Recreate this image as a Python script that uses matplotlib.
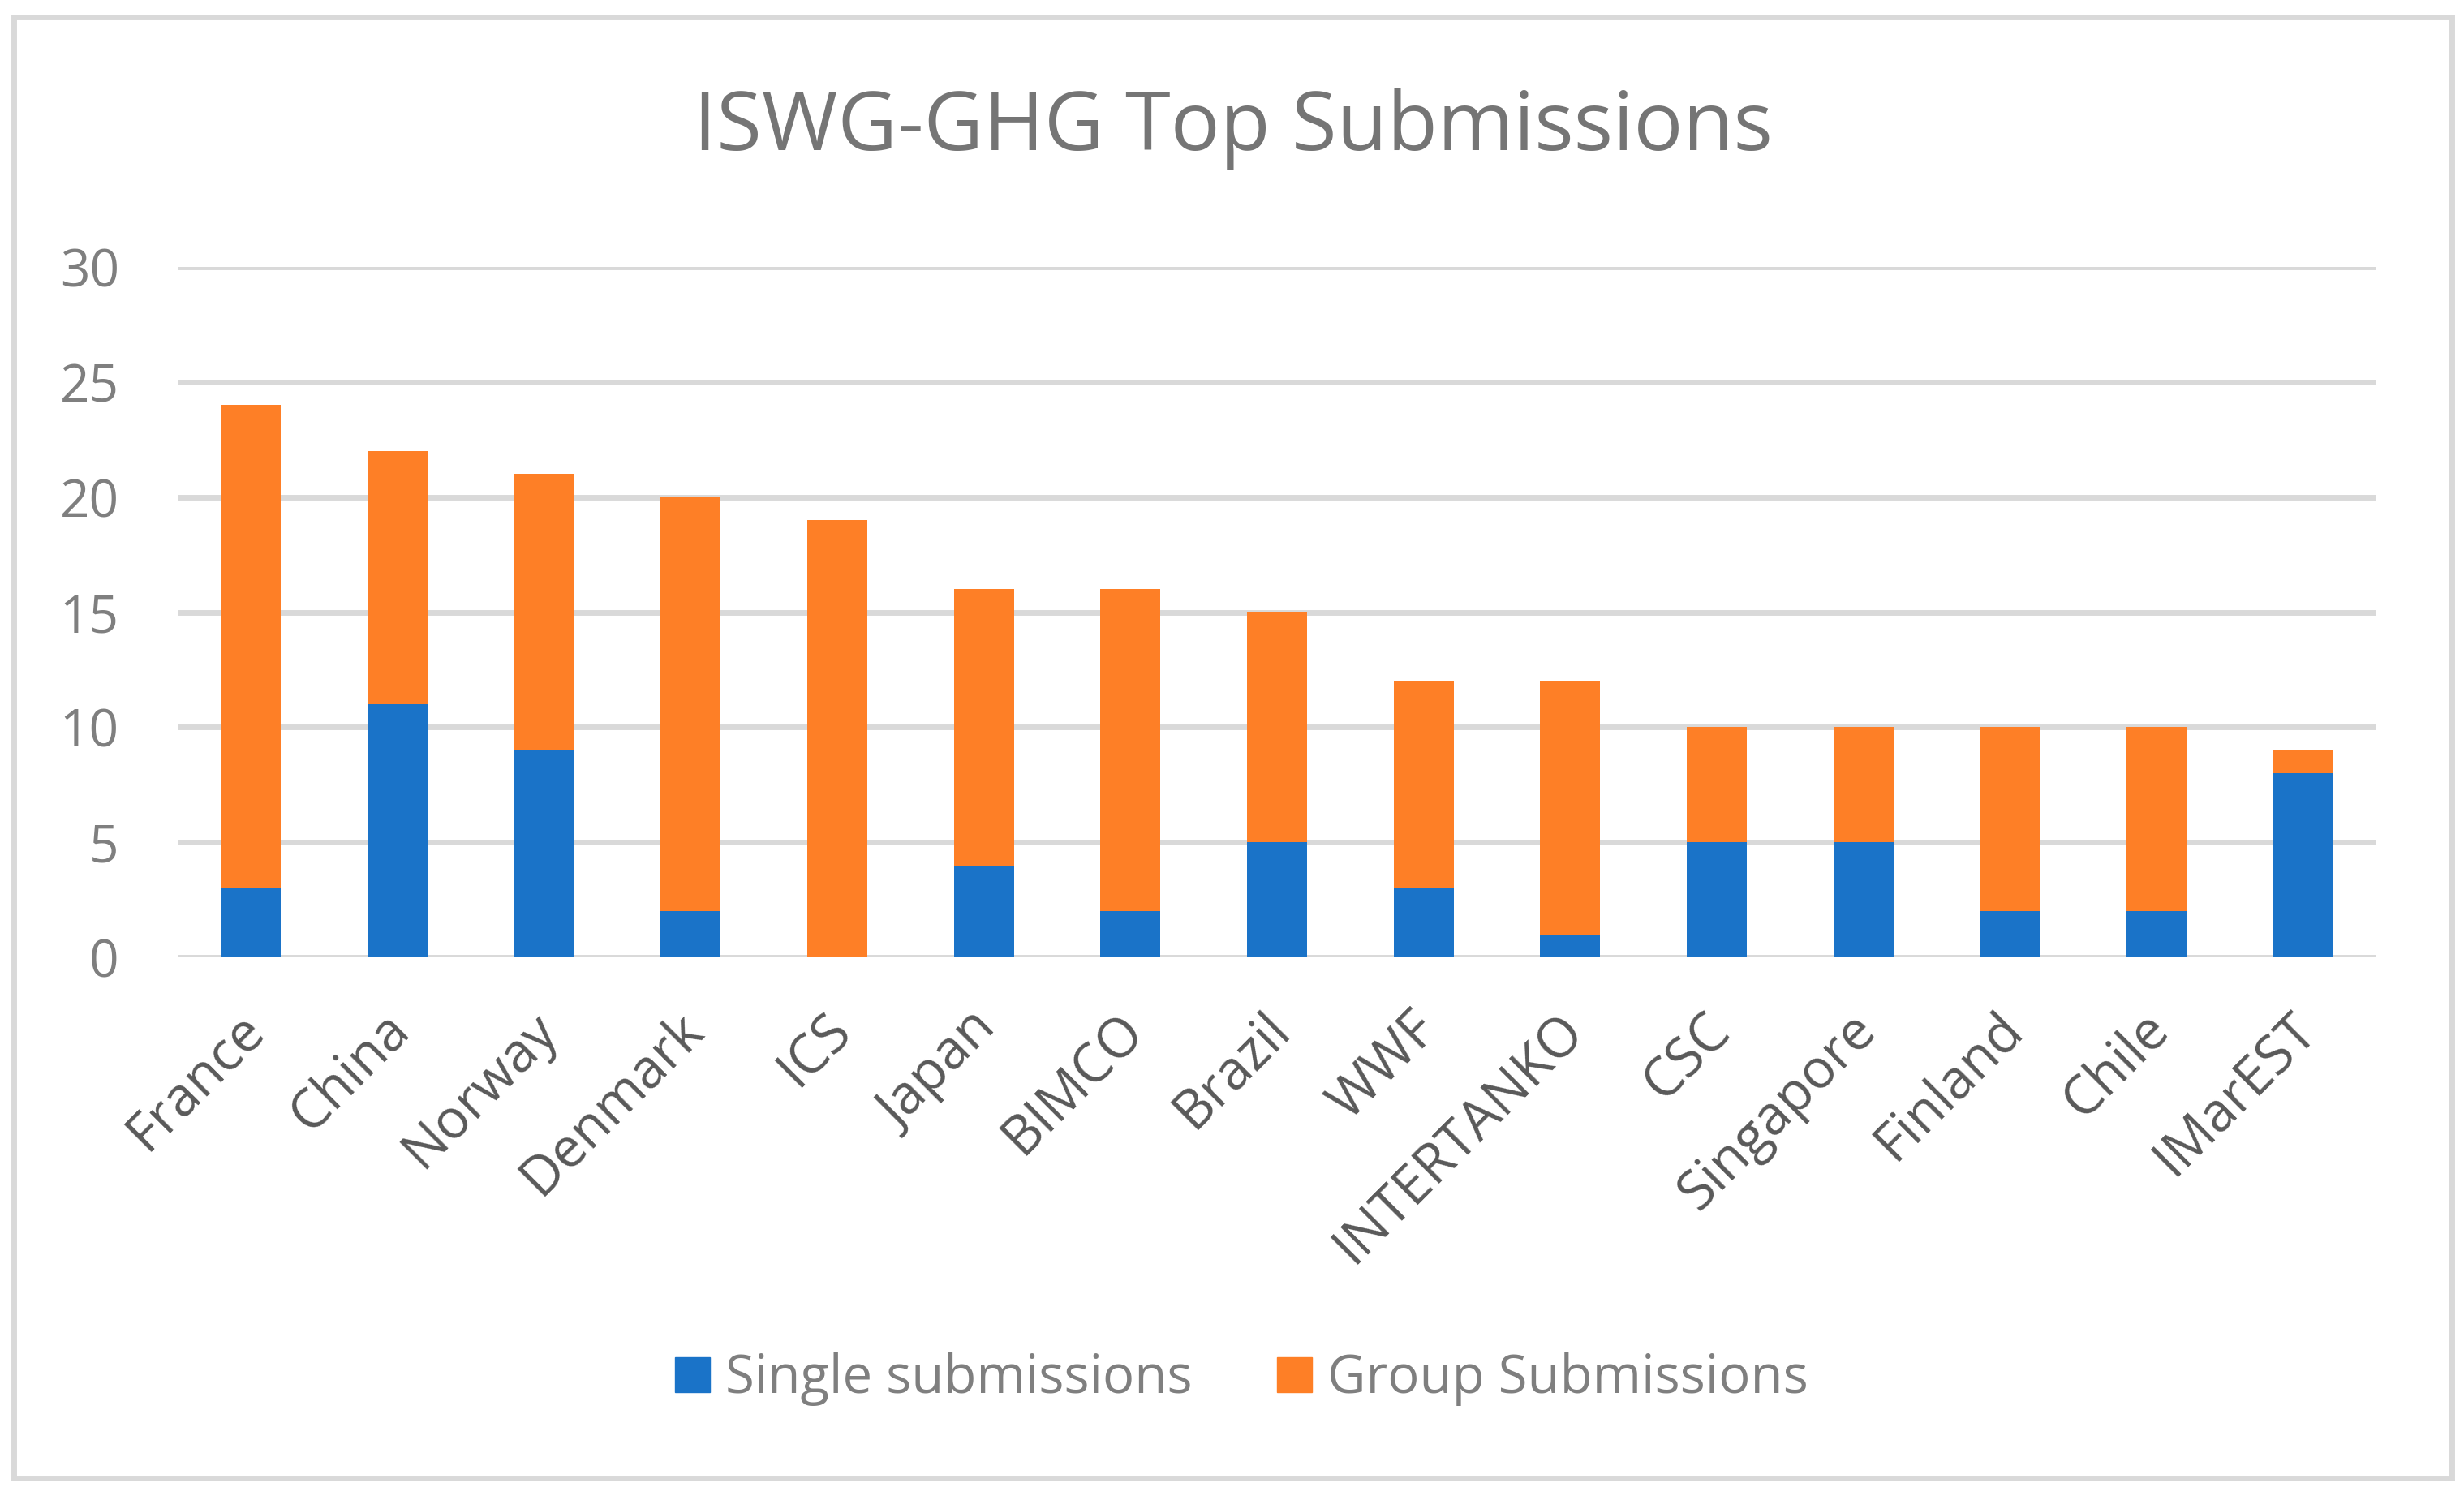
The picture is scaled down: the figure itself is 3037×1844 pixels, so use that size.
import matplotlib
matplotlib.use('Agg')
import matplotlib.pyplot as plt
import matplotlib.transforms as mtransforms
from matplotlib.patches import Rectangle, Patch
import numpy as np

plt.rcParams['font.family'] = ['Open Sans', 'DejaVu Sans']

names = ['France', 'China', 'Norway', 'Denmark', 'ICS', 'Japan', 'BIMCO', 'Brazil',
         'WWF', 'INTERTANKO', 'CSC', 'Singapore', 'Finland', 'Chile', 'IMarEST']
single = [3, 11, 9, 2, 0, 4, 2, 5, 3, 1, 5, 5, 2, 2, 8]
group = [21, 11, 12, 18, 19, 12, 14, 10, 9, 11, 5, 5, 8, 8, 1]

blue = '#1a73c8'
orange = '#fe7f26'
grid_c = '#d9d9d9'

W, H = 3037, 1844
fig = plt.figure(figsize=(W / 100, H / 100), dpi=100)
ax = fig.add_axes([219 / W, 1 - 1180 / H, (2929 - 219) / W, (1180 - 329) / H])

x = np.arange(len(names))
ax.bar(x, single, width=0.41, color=blue, label='Single submissions', zorder=3)
ax.bar(x, group, width=0.41, bottom=single, color=orange, label='Group Submissions', zorder=3)

ax.set_xlim(-0.5, len(names) - 0.5)
ax.set_ylim(0, 30)
ax.set_yticks(range(0, 31, 5))
ax.yaxis.grid(True, color=grid_c, linewidth=5, zorder=0)
ax.set_axisbelow(True)
for s in ['top', 'right', 'left', 'bottom']:
    ax.spines[s].set_visible(False)
ax.tick_params(axis='both', length=0)
ax.tick_params(axis='y', labelsize=46, labelcolor='#7f7f7f', pad=52)
ax.set_xticks(x)
ax.set_xticklabels(names, rotation=45, ha='right', rotation_mode='anchor',
                   fontsize=48, color='#595959')
ax.tick_params(axis='x', pad=40)
# nudge labels a bit left like the original
shift = mtransforms.ScaledTranslation(-0.18, 0, fig.dpi_scale_trans)
for lbl in ax.get_xticklabels():
    lbl.set_transform(lbl.get_transform() + shift)

fig.text(0.5005, 1 - 159 / H, 'ISWG-GHG Top Submissions', ha='center', va='center',
         fontsize=73, color='#757575')

handles = [Patch(color=blue), Patch(color=orange)]
fig.legend(handles, ['Single submissions', 'Group Submissions'], loc='center',
           bbox_to_anchor=(0.504, 1 - 1700 / H), ncol=2, frameon=False,
           fontsize=47, labelcolor='#7f7f7f', handlelength=0.65, handleheight=0.65,
           handletextpad=0.3, columnspacing=1.6)

fig.patches.append(Rectangle((17 / W, 1 - 1822 / H), (3022 - 17) / W, (1822 - 21) / H,
                             transform=fig.transFigure, fill=False,
                             edgecolor=grid_c, linewidth=5))

fig.savefig('out.png', dpi=100, facecolor='white')
